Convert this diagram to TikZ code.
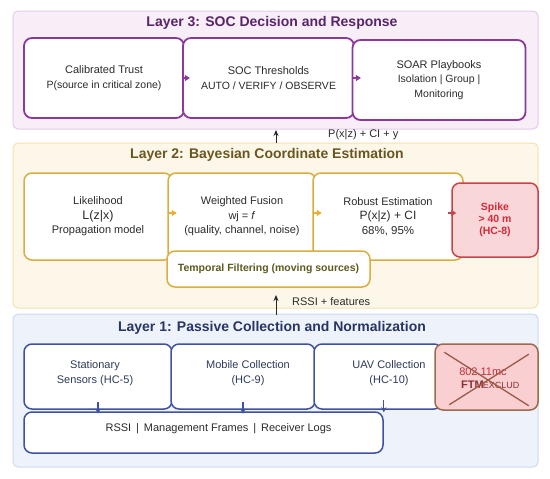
\documentclass[tikz,border=0pt]{standalone}
\usepackage{fontspec}
\setmainfont{Liberation Sans}
\usetikzlibrary{arrows.meta}
\definecolor{pPanF}{HTML}{F7EEF8}
\definecolor{pPanD}{HTML}{E3CBEA}
\definecolor{pBox}{HTML}{8B3A9B}
\definecolor{pTitle}{HTML}{5A2468}
\definecolor{gPanF}{HTML}{FDF7E9}
\definecolor{gPanD}{HTML}{F3E1AE}
\definecolor{gBox}{HTML}{D8AE40}
\definecolor{gTitle}{HTML}{6A5620}
\definecolor{gTemp}{HTML}{5E5A1F}
\definecolor{gArr}{HTML}{E8B030}
\definecolor{bPanF}{HTML}{EEF3FB}
\definecolor{bPanD}{HTML}{CED9EE}
\definecolor{bBox}{HTML}{3F51A3}
\definecolor{bTitle}{HTML}{283563}
\definecolor{bText}{HTML}{2E3A5C}
\definecolor{bodyText}{HTML}{2B2B2B}
\definecolor{spkF}{HTML}{F9D6D8}
\definecolor{spkD}{HTML}{C8434E}
\definecolor{spkT}{HTML}{D22B3A}
\definecolor{ftmF}{HTML}{F9CFD1}
\definecolor{ftmD}{HTML}{9C6B4F}
\definecolor{ftmX}{HTML}{9A5A48}
\definecolor{ftmR}{HTML}{C0303A}
\definecolor{ftmT}{HTML}{8B3030}
\begin{document}
\begin{tikzpicture}[x=1pt,y=-1pt,
  panel/.style={draw, rounded corners=5pt, line width=1pt, inner sep=0pt},
  box/.style={draw, fill=white, rounded corners=8pt, inner sep=0pt, align=center,
    text=bodyText, font=\fontsize{11}{14.5}\selectfont},
  ttl/.style={font=\fontsize{14}{16}\selectfont\bfseries, inner sep=0pt},
  txt/.style={align=center, inner sep=0pt, font=\fontsize{11}{15}\selectfont},
  flowarr/.style={-{Stealth[length=6pt,width=5pt]}, line width=1pt, draw=black!85},
  parr/.style={-{Triangle[length=5pt,width=6pt]}, line width=1.6pt, draw=pBox},
  garr/.style={-{Triangle[length=5pt,width=6pt]}, line width=1.4pt, draw=gArr},
  rarr/.style={-{Triangle[length=5pt,width=6pt]}, line width=1.4pt, draw=spkD},
  barr/.style={-{Stealth[length=5pt,width=5pt]}, line width=1.3pt, draw=bBox}
]
\useasboundingbox (0,0) rectangle (550,479);
\fill[white] (0,0) rectangle (550,479);

% ---------------- Layer 3 ----------------
\node[panel, fill=pPanF, draw=pPanD, minimum width=525pt, minimum height=118pt] (p3) at (275.5,70) {};
\node[ttl, text=pTitle] (t3) at (272,23) {Layer 3: SOC Decision and Response};
\node[box, draw=pBox, line width=1.8pt, minimum width=160pt, minimum height=80pt] (b31) at (104,78)
  {Calibrated Trust\\{\fontsize{10.5}{14}\selectfont P(source in critical zone)}};
\node[box, draw=pBox, line width=1.8pt, minimum width=171pt, minimum height=80pt] (b32) at (268.5,78)
  {SOC Thresholds\\{\fontsize{10.5}{14}\selectfont AUTO / VERIFY / OBSERVE}};
\node[box, draw=pBox, line width=1.8pt, minimum width=173pt, minimum height=80pt] (b33) at (439,80)
  {SOAR Playbooks\\{\fontsize{10.5}{14.5}\selectfont Isolation | Group |}\\{\fontsize{10.5}{14.5}\selectfont Monitoring}};
\draw[parr] ([xshift=-3pt]b31.east) -- ([xshift=5pt]b31.east);
\draw[parr] ([xshift=-2pt]b32.east) -- ([xshift=6pt]b32.east);

% ---------------- Layer 2 ----------------
\node[panel, fill=gPanF, draw=gPanD, minimum width=525pt, minimum height=165pt] (p2) at (275.5,225.5) {};
\node[ttl, text=gTitle] (t2) at (267,155) {Layer 2: Bayesian Coordinate Estimation};
\node[box, draw=gBox, line width=1.5pt, minimum width=148pt, minimum height=87pt] (b21) at (98,216.5)
  {Likelihood\\{\fontsize{12.5}{15}\selectfont L(z|x)}\\Propagation model};
\node[box, draw=gBox, line width=1.5pt, minimum width=148pt, minimum height=87pt] (b22) at (242,216.5)
  {Weighted Fusion\\wj = \textit{f}\\(quality, channel, noise)};
\node[box, draw=gBox, line width=1.5pt, minimum width=150pt, minimum height=87pt] (b23) at (388,216.5)
  {Robust Estimation\\{\fontsize{12}{15}\selectfont P(x|z) + CI}\\{\fontsize{11.5}{15}\selectfont 68\%, 95\%}};
\node[box, fill=spkF, draw=spkD, line width=1.5pt, text=spkT, minimum width=86pt, minimum height=74pt,
  font=\fontsize{10.5}{12}\selectfont\bfseries] (spk) at (495,220)
  {Spike\\> 40 m\\(HC-8)};
\node[box, draw=gBox, line width=1.5pt, minimum width=203pt, minimum height=36pt, text=gTemp,
  font=\fontsize{10.5}{13}\selectfont\bfseries] (tmp) at (268.5,269)
  {Temporal Filtering (moving sources)};
\draw[garr] ([xshift=-4pt,yshift=3.5pt]b21.east) -- ([xshift=4pt,yshift=3.5pt]b21.east);
\draw[garr] ([xshift=-3pt,yshift=3.5pt]b22.east) -- ([xshift=5pt,yshift=3.5pt]b22.east);
\draw[rarr] ([xshift=-3pt,yshift=7pt]spk.west) -- ([xshift=5pt,yshift=7pt]spk.west);

% ---------------- Layer 1 ----------------
\node[panel, fill=bPanF, draw=bPanD, minimum width=525pt, minimum height=153pt] (p1) at (275.5,390.5) {};
\node[ttl, text=bTitle] (t1) at (272,328) {Layer 1: Passive Collection and Normalization};
\node[box, draw=bBox, line width=1.5pt, minimum width=148pt, minimum height=65pt] (b11) at (98,376.5) {};
\node[box, draw=bBox, line width=1.5pt, minimum width=144pt, minimum height=65pt] (b12) at (243,376.5) {};
\node[box, draw=bBox, line width=1.5pt, minimum width=128pt, minimum height=65pt] (b13) at (378,376.5) {};
\node[box, fill=ftmF, draw=ftmD, line width=1.5pt, minimum width=103pt, minimum height=66pt] (ftm) at (486.5,377) {};
\node[txt, text=bText] (l11) at (95,373) {Stationary\\Sensors (HC-5)};
\node[txt, text=bText] (l12) at (248,373) {Mobile Collection\\(HC-9)};
\node[txt, text=bText] (l13) at (389,373) {UAV Collection\\(HC-10)};
\node[txt, text=ftmR, font=\fontsize{11}{13}\selectfont] (f1) at (483,372) {802.11mc};
\node[txt, text=ftmT, anchor=base west, font=\fontsize{11}{13}\selectfont\bfseries] (f2) at (461,388) {FTM\kern-1pt{\fontsize{9}{10}\mdseries EXCLUD}};
\draw[ftmX, line width=1.3pt] ([xshift=10pt,yshift=-9pt]ftm.north west) -- ([xshift=-10pt,yshift=5pt]ftm.south east);
\draw[ftmX, line width=1.3pt] ([xshift=-10pt,yshift=-11pt]ftm.north east) -- ([xshift=15pt,yshift=6pt]ftm.south west);
\node[box, draw=bBox, line width=1.5pt, minimum width=359pt, minimum height=41pt] (bot) at (203.5,432.5) {};
\node[txt, text=bodyText] (lbot) at (218.5,429) {RSSI \,|\, Management Frames \,|\, Receiver Logs};
\draw[barr] ([yshift=8pt]b11.south) -- ([yshift=-4pt]b11.south);
\draw[barr] ([yshift=8pt]b12.south) -- ([yshift=-4pt]b12.south);
\coordinate (a13s) at ([yshift=11pt]bot.north east);
\coordinate (a13e) at ([yshift=-1pt]bot.north east);
\draw[barr] (a13s) -- (a13e);

% ---------------- between layers ----------------
\coordinate (up2s) at (276,315);
\coordinate (up2e) at (276,295);
\draw[flowarr] (up2s) -- (up2e);
\node[txt, anchor=west, text=bodyText] (lab2) at (292,302) {RSSI + features};
\coordinate (up3s) at (276,143);
\coordinate (up3e) at (276,130);
\draw[flowarr] (up3s) -- (up3e);
\node[txt, anchor=west, text=bodyText] (lab3) at (328,135) {P(x|z) + CI + y};
\end{tikzpicture}
\end{document}
